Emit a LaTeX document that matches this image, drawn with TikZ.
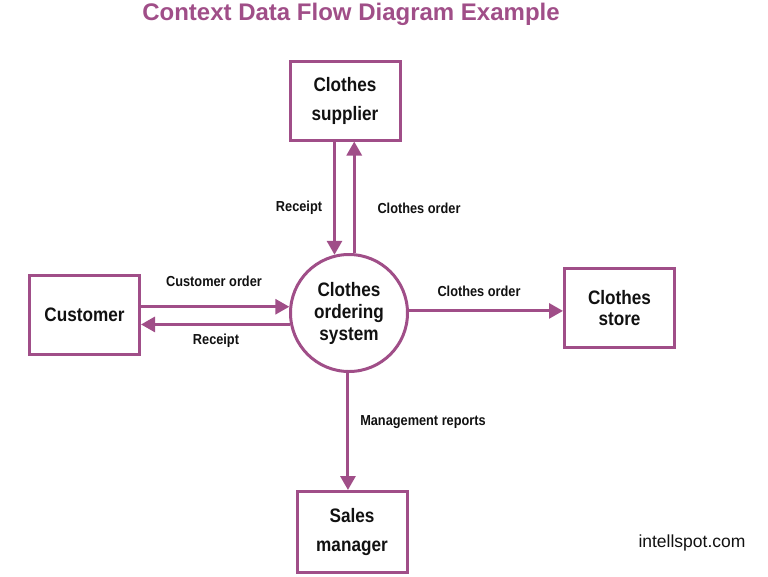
\documentclass[tikz,border=0pt]{standalone}
\usepackage{fontspec}
\setmainfont{Liberation Sans}
\newfontfamily\condbf[FakeStretch=0.88]{Liberation Sans Bold}
\newfontfamily\condlab[FakeStretch=0.88]{Liberation Sans Bold}
\usetikzlibrary{arrows.meta}
\definecolor{dfdpurple}{RGB}{160,78,136}
\definecolor{dfdtext}{RGB}{17,17,17}
\tikzset{
  entity/.style={draw=dfdpurple, line width=3pt, minimum width=110pt, minimum height=79pt,
    inner sep=0pt, align=center, text=dfdtext, font=\condbf\fontsize{19.5}{29}\selectfont},
  process/.style={circle, draw=dfdpurple, line width=3pt, minimum size=117pt, inner sep=0pt,
    align=center, text=dfdtext, font=\condbf\fontsize{19.5}{22}\selectfont},
  flow/.style={draw=dfdpurple, line width=3pt, -{Triangle[length=14pt,width=15pt]}},
  flowlabel/.style={text=dfdtext, font=\condlab\fontsize{14.5}{16}\selectfont, inner sep=0pt},
}
\begin{document}
\begin{tikzpicture}[x=1pt,y=-1pt]
\useasboundingbox (0,0) rectangle (768,576);
\node[text=dfdpurple, font=\bfseries\fontsize{24}{26}\selectfont] (title) at (351,14) {Context Data Flow Diagram Example};

\node[process] (sys) at (349,313) {Clothes\\ordering\\system};
\node[entity] (sup) at (345,100.5) {Clothes\\supplier};
\node[entity] (cust) at (84.5,315) {Customer};
\node[entity, font=\condbf\fontsize{19.5}{21}\selectfont] (store) at (619.5,308) {Clothes\\store};
\node[entity, minimum height=81pt] (sales) at (352,532) {Sales\\manager};

\draw[flow] (sup.south -| sys.104.5) -- (sys.104.5);
\draw[flow] (sys.85.2) -- (sup.south -| sys.85.2);
\draw[flow] (cust.east |- sys.174.3) -- (sys.174.3);
\draw[flow] (sys.191.5) -- (cust.east |- sys.191.5);
\draw[flow] (sys.2.9) -- (store.west |- sys.2.9);
\draw[flow] (sys.269) -- (sales.north -| sys.269);

\node[flowlabel] (l1) at (299,208) {Receipt};
\node[flowlabel] (l2) at (419,208) {Clothes order};
\node[flowlabel] (l3) at (214,281) {Customer order};
\node[flowlabel] (l4) at (216,341) {Receipt};
\node[flowlabel] (l5) at (479,291) {Clothes order};
\node[flowlabel] (l6) at (423,422) {Management reports};

\node[text=dfdtext, font=\fontsize{17.5}{20}\selectfont] (credit) at (692,543) {intellspot.com};
\end{tikzpicture}
\end{document}
